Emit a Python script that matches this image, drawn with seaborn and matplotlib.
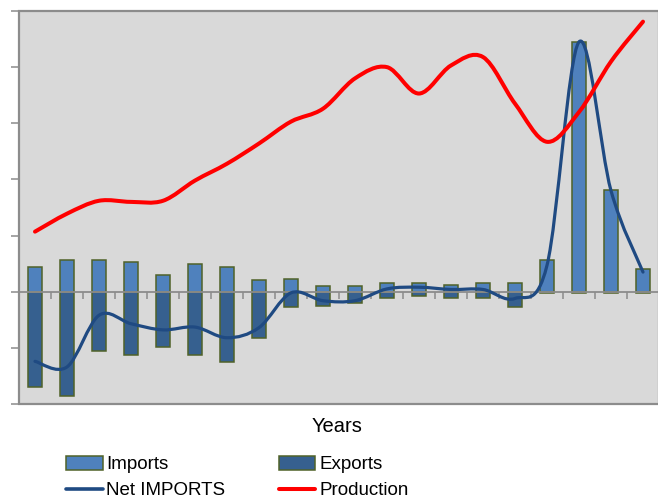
import numpy as np
import pandas as pd
import matplotlib
matplotlib.use('Agg')
import matplotlib.pyplot as plt
import seaborn as sns
from matplotlib.path import Path
from matplotlib.patches import PathPatch, Patch
from matplotlib.lines import Line2D

# ---- data (arbitrary units) ----
years = [str(y) for y in range(1990, 2010)]
imports = [44.5, 57, 57, 53, 30, 50, 44.5, 20, 23, 11, 11, 16, 16, 12.5, 16, 16, 57, 445, 182, 41]
exports = [-169, -185, -105, -112, -98, -112, -125, -82, -27, -25, -20, -11, -7, -11, -11, -27, -3, -3, -3, -3]
net_imports = [-124, -134, -42, -57, -68, -63, -82, -64, -2, -16, -16, 5, 8, 4, 4, -12, 47, 445, 180, 35]
production = [107, 139, 162, 160, 162, 198, 228, 264, 303, 326, 380, 400, 353, 403, 418, 335, 267, 320, 410, 481]

sns.set_theme(style='white')
FONT = ['Liberation Sans', 'DejaVu Sans']
plt.rcParams['font.family'] = FONT
plt.rcParams['text.color'] = 'black'

IMP_C = '#4F81BD'
EXP_C = '#36608F'
EDGE_C = '#4F6228'
NET_C = '#1F4A82'
PROD_C = '#FF0000'
GRAY = '#8C8C8C'

fig = plt.figure(figsize=(6.58, 5.0), dpi=100)
ax = fig.add_axes([19/658, 96/500, 640/658, 393/500])
ax.set_facecolor('#D9D9D9')

df = pd.DataFrame({'year': years, 'imports': imports, 'exports': exports})
sns.barplot(data=df, x='year', y='imports', color=IMP_C, saturation=1, width=0.44,
            edgecolor=EDGE_C, linewidth=1.1, ax=ax, zorder=1)
sns.barplot(data=df, x='year', y='exports', color=EXP_C, saturation=1, width=0.44,
            edgecolor=EDGE_C, linewidth=1.1, ax=ax, zorder=1)


def smooth_path(yvals):
    x = np.arange(len(yvals), dtype=float)
    pts = np.column_stack([x, np.asarray(yvals, dtype=float)])
    n = len(pts)
    verts = [pts[0]]
    codes = [Path.MOVETO]
    for i in range(n - 1):
        p0 = pts[i - 1] if i > 0 else pts[i]
        p1 = pts[i]
        p2 = pts[i + 1]
        p3 = pts[i + 2] if i + 2 < n else pts[i + 1]
        c1 = p1 + (p2 - p0) / 6.0
        c2 = p2 - (p3 - p1) / 6.0
        verts += [c1, c2, p2]
        codes += [Path.CURVE4] * 3
    return Path(verts, codes)


ax.add_patch(PathPatch(smooth_path(net_imports), fill=False, edgecolor=NET_C,
                       lw=2.3, capstyle='round', joinstyle='round', zorder=4))
ax.add_patch(PathPatch(smooth_path(production), fill=False, edgecolor=PROD_C,
                       lw=2.9, capstyle='round', joinstyle='round', zorder=5))

ax.set_xlim(-0.5, len(years) - 0.5)
ax.set_ylim(-200, 500)

# frame
for s in ['top', 'right']:
    ax.spines[s].set_visible(False)
ax.patch.set_edgecolor(GRAY)
ax.patch.set_linewidth(1.6)
ax.spines['left'].set_color(GRAY)
ax.spines['left'].set_linewidth(1.2)
ax.spines['bottom'].set_position(('data', 0))
ax.spines['bottom'].set_color(GRAY)
ax.spines['bottom'].set_linewidth(1.3)
ax.spines['bottom'].set_zorder(3)

ax.set_yticks(np.arange(-200, 501, 100))
ax.tick_params(axis='y', direction='out', length=6, width=1.1, color=GRAY,
               labelleft=False, left=True)
ax.set_xticks(np.arange(0.5, len(years) - 1, 1.0))
ax.tick_params(axis='x', direction='out', length=5, width=1.1, color=GRAY,
               labelbottom=False, bottom=True)
ax.set_xlabel('')
ax.set_ylabel('')

fig.text(337/658, 1 - 427/500, 'Years', ha='center', va='center', fontsize=14.5,
         family=FONT, color='black')

handles = [
    Patch(facecolor=IMP_C, edgecolor=EDGE_C, linewidth=1.1, label='Imports'),
    Line2D([], [], color=NET_C, lw=2.6, label='Net IMPORTS'),
    Patch(facecolor=EXP_C, edgecolor=EDGE_C, linewidth=1.1, label='Exports'),
    Line2D([], [], color=PROD_C, lw=2.9, label='Production'),
]
fig.legend(handles=handles, ncol=2, loc='upper left',
           bbox_to_anchor=(66/658, 1 - 456/500), frameon=False,
           prop={'family': FONT, 'size': 13.5}, borderpad=0, borderaxespad=0,
           handlelength=1.95, handleheight=0.75, handletextpad=0.2,
           columnspacing=2.85, labelspacing=0.45, labelcolor='black')

fig.savefig('out.png', dpi=100)
